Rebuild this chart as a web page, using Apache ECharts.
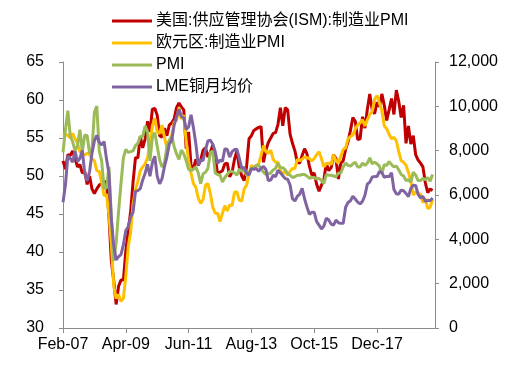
<!DOCTYPE html>
<html>
<head>
<meta charset="utf-8">
<script src="https://cdn.jsdelivr.net/npm/echarts@6/dist/echarts.min.js"></script>
<style>
html,body{margin:0;padding:0;background:#fff;}
#c{width:517px;height:369px;}
</style>
</head>
<body>
<div id="c"></div>
<script>
// Categories: monthly Feb-07 .. Dec-19
const monthNames = ['Jan','Feb','Mar','Apr','May','Jun','Jul','Aug','Sep','Oct','Nov','Dec'];
const categories = [];
for (let y = 2007; y <= 2019; y++) {
  for (let m = 0; m < 12; m++) {
    if (y === 2007 && m === 0) continue;
    categories.push(monthNames[m] + '-' + String(y).slice(2));
  }
}
// Tick labels shown on the x axis
const tickLabels = ['Feb-07', 'Apr-09', 'Jun-11', 'Aug-13', 'Oct-15', 'Dec-17'];

const seriesNames = ['美国:供应管理协会(ISM):制造业PMI', '欧元区:制造业PMI', 'PMI', 'LME铜月均价'];

// US ISM manufacturing PMI (left axis), Feb-07 .. Nov-19
const ismPMI = [
  52.0, 50.9, 52.8, 52.7, 53.3, 52.3, 51.2, 51.5, 50.4, 50.6, 48.9,
  50.0, 48.3, 47.7, 48.3, 48.8, 49.0, 49.3, 49.2, 44.8, 38.9, 36.2, 33.1,
  35.5, 36.3, 36.3, 40.1, 42.8, 45.3, 49.2, 52.4, 52.4, 55.2, 53.7, 54.9,
  57.2, 55.8, 58.8, 58.9, 58.0, 55.3, 55.1, 56.3, 55.3, 56.7, 57.0, 57.5,
  59.0, 59.6, 59.1, 58.7, 53.6, 55.8, 51.4, 51.0, 52.2, 51.4, 52.1, 53.4,
  53.7, 52.5, 53.1, 54.1, 52.6, 50.2, 50.5, 50.7, 51.6, 51.7, 49.9, 50.5,
  52.2, 53.3, 51.1, 50.0, 49.4, 51.2, 54.9, 55.3, 56.0, 56.2, 56.4, 56.5,
  51.8, 53.4, 54.4, 55.0, 55.6, 55.7, 56.8, 59.0, 56.6, 59.0, 58.7, 55.5,
  54.3, 53.3, 51.8, 51.7, 52.7, 53.6, 52.9, 51.3, 50.1, 50.4, 48.9, 48.0,
  48.8, 49.5, 51.7, 50.7, 51.1, 52.8, 52.3, 49.6, 51.7, 52.0, 53.5, 54.5,
  56.0, 57.7, 57.2, 54.8, 54.9, 57.8, 56.3, 58.8, 60.8, 58.7, 58.2, 59.7,
  59.1, 60.8, 59.3, 57.3, 58.7, 60.2, 58.1, 61.3, 59.8, 57.7, 59.3, 54.3,
  56.6, 54.2, 55.3, 52.8, 52.1, 51.7, 51.2, 49.1, 47.8, 48.3, 48.1, null
];

// Eurozone manufacturing PMI (left axis)
const euroPMI = [
  55.6, 55.4, 55.4, 55.0, 55.6, 54.9, 54.3, 53.2, 52.9, 52.8, 53.0,
  52.8, 52.3, 52.0, 50.7, 50.6, 49.2, 47.4, 47.6, 45.0, 41.1, 35.6, 33.9,
  34.4, 33.5, 33.9, 36.8, 40.7, 42.6, 46.3, 48.2, 49.3, 50.7, 51.2, 51.6,
  52.4, 54.2, 56.6, 57.6, 55.8, 55.6, 56.7, 55.1, 53.7, 54.6, 55.3, 57.1,
  57.3, 59.0, 57.5, 58.0, 54.6, 52.0, 50.4, 49.0, 48.5, 47.1, 46.4, 46.9,
  48.8, 49.0, 47.7, 45.9, 45.1, 45.1, 44.0, 45.1, 46.1, 45.4, 46.2, 46.1,
  47.9, 47.9, 46.8, 46.7, 48.3, 48.8, 50.3, 51.4, 51.1, 51.3, 51.6, 52.7,
  54.0, 53.2, 53.0, 53.4, 52.2, 51.8, 51.8, 50.7, 50.3, 50.6, 50.1, 50.6,
  51.0, 51.0, 52.2, 52.0, 52.2, 52.5, 52.4, 52.3, 52.0, 52.3, 52.8, 53.2,
  52.3, 51.2, 51.6, 51.7, 51.5, 52.8, 52.0, 51.7, 52.6, 53.5, 53.7, 54.9,
  55.2, 55.4, 56.2, 56.7, 57.0, 57.4, 56.6, 57.4, 58.1, 58.5, 60.1, 60.6,
  59.6, 58.6, 56.6, 56.2, 55.5, 54.9, 55.1, 54.6, 53.2, 52.0, 51.8, 51.4,
  50.5, 49.3, 47.5, 47.9, 47.7, 47.6, 46.5, 47.0, 45.7, 45.9, 46.9, null
];

// China PMI (left axis)
const chinaPMI = [
  53.1, 56.1, 58.6, 55.3, 54.5, 53.3, 54.0, 56.1, 53.2, 55.4, 55.3,
  53.0, 53.4, 58.4, 59.2, 53.3, 52.0, 48.4, 48.4, 51.2, 44.6, 38.8, 41.2,
  45.3, 49.0, 52.4, 53.5, 53.1, 53.2, 53.3, 54.0, 54.3, 55.2, 55.2, 56.6,
  55.8, 52.0, 55.1, 55.7, 53.9, 52.1, 51.2, 51.7, 53.8, 54.7, 55.2, 53.9,
  52.9, 52.2, 53.4, 52.9, 52.0, 50.9, 50.7, 50.9, 51.2, 50.4, 49.0, 50.3,
  50.5, 51.0, 53.1, 53.3, 50.4, 50.2, 50.1, 49.2, 49.8, 50.2, 50.6, 50.6,
  50.4, 50.1, 50.9, 50.6, 50.8, 50.1, 50.3, 51.0, 51.1, 51.4, 51.4, 51.0,
  50.5, 50.2, 50.3, 50.4, 50.8, 51.0, 51.7, 51.1, 51.1, 50.8, 50.3, 50.1,
  49.8, 49.9, 50.1, 50.1, 50.2, 50.2, 50.0, 49.7, 49.8, 49.8, 49.6, 49.7,
  49.4, 49.0, 50.2, 50.1, 50.1, 50.0, 49.9, 50.4, 50.4, 51.2, 51.7, 51.4,
  51.3, 51.6, 51.8, 51.2, 51.2, 51.7, 51.4, 51.7, 52.4, 51.6, 51.8, 51.6,
  51.3, 50.3, 51.5, 51.4, 51.9, 51.5, 51.2, 51.3, 50.8, 50.2, 50.0, 49.4,
  49.5, 49.2, 50.5, 50.1, 49.4, 49.4, 49.7, 49.5, 49.8, 49.3, 50.2, null
];

// LME copper monthly average, USD/t (right axis)
const lmeCopper = [
  5670, 6450, 7770, 7650, 7480, 7970, 7510, 7650, 8010, 6960, 6640,
  7060, 7890, 8440, 8690, 8380, 8260, 8410, 7630, 6990, 4930, 3720, 3070,
  3220, 3310, 3750, 4400, 4570, 5010, 5220, 6160, 6200, 6290, 6680, 6980,
  7390, 6850, 7460, 7750, 6840, 6500, 6740, 7280, 7710, 8290, 8470, 9150,
  9530, 9870, 9530, 9480, 8960, 9070, 9620, 9040, 8310, 7350, 7580, 7560,
  8040, 8440, 8470, 8290, 7960, 7420, 7580, 7510, 8090, 8060, 7710, 7960,
  8050, 8060, 7650, 7200, 7250, 7000, 6900, 7190, 7160, 7200, 7070, 7210,
  7290, 7150, 6650, 6670, 6890, 6820, 7110, 7000, 6870, 6740, 6710, 6450,
  5830, 5730, 5940, 6040, 6300, 5830, 5460, 5130, 5220, 5220, 4800, 4640,
  4470, 4600, 4950, 4870, 4690, 4640, 4870, 4750, 4720, 4730, 5450, 5660,
  5740, 5940, 5820, 5680, 5600, 5720, 5990, 6490, 6580, 6810, 6830, 6830,
  7070, 7010, 6800, 6840, 6830, 7000, 6250, 6050, 6050, 6220, 6190, 6070,
  5930, 6300, 6440, 6430, 6030, 5870, 5940, 5710, 5760, 5740, 5860, null
];

const colors = ['#C00000', '#FFC000', '#9BBB59', '#8064A2'];

const axisColor = '#8c8c8c';
const font = "'Liberation Sans', Arial, 'Noto Sans CJK SC', sans-serif";

const showTick = (idx, val) => tickLabels.indexOf(categories[idx]) >= 0;

const chart = echarts.init(document.getElementById('c'), null, {renderer: 'canvas'});
chart.setOption({
  animation: false,
  backgroundColor: '#fff',
  color: colors,
  textStyle: {fontFamily: font},
  legend: {
    orient: 'vertical',
    left: 112,
    top: 13,
    padding: 0,
    icon: 'rect',
    itemWidth: 40,
    itemHeight: 3,
    itemGap: 6,
    textStyle: {fontSize: 16, color: '#000', fontFamily: font, padding: [0, 0, 0, -1]},
    data: seriesNames
  },
  grid: {left: 63, right: 82, top: 62, bottom: 41, containLabel: false},
  xAxis: {
    type: 'category',
    data: categories,
    boundaryGap: false,
    axisLine: {lineStyle: {color: axisColor, width: 1}},
    axisTick: {show: true, interval: showTick, length: 5, lineStyle: {color: axisColor}},
    axisLabel: {interval: showTick, color: '#000', fontSize: 16, margin: 9, fontFamily: font},
    splitLine: {show: false}
  },
  yAxis: [
    {
      type: 'value', min: 30, max: 65, interval: 5,
      axisLine: {show: true, lineStyle: {color: axisColor}},
      axisTick: {show: true, length: 4, lineStyle: {color: axisColor}},
      axisLabel: {color: '#000', fontSize: 16, margin: 19, fontFamily: font},
      splitLine: {show: false}
    },
    {
      type: 'value', min: 0, max: 12000, interval: 2000,
      axisLine: {show: true, lineStyle: {color: axisColor}},
      axisTick: {show: true, length: 4, lineStyle: {color: axisColor}},
      axisLabel: {
        color: '#000', fontSize: 16, margin: 14, fontFamily: font,
        formatter: v => v.toLocaleString('en-US')
      },
      splitLine: {show: false}
    }
  ],
  series: [
    {name: seriesNames[0], type: 'line', yAxisIndex: 0, data: ismPMI, symbol: 'none', lineStyle: {width: 3, color: colors[0]}, itemStyle: {color: colors[0]}},
    {name: seriesNames[1], type: 'line', yAxisIndex: 0, data: euroPMI, symbol: 'none', lineStyle: {width: 3, color: colors[1]}, itemStyle: {color: colors[1]}},
    {name: seriesNames[2], type: 'line', yAxisIndex: 0, data: chinaPMI, symbol: 'none', lineStyle: {width: 3, color: colors[2]}, itemStyle: {color: colors[2]}},
    {name: seriesNames[3], type: 'line', yAxisIndex: 1, data: lmeCopper, symbol: 'none', lineStyle: {width: 3, color: colors[3]}, itemStyle: {color: colors[3]}}
  ]
});
</script>
</body>
</html>
